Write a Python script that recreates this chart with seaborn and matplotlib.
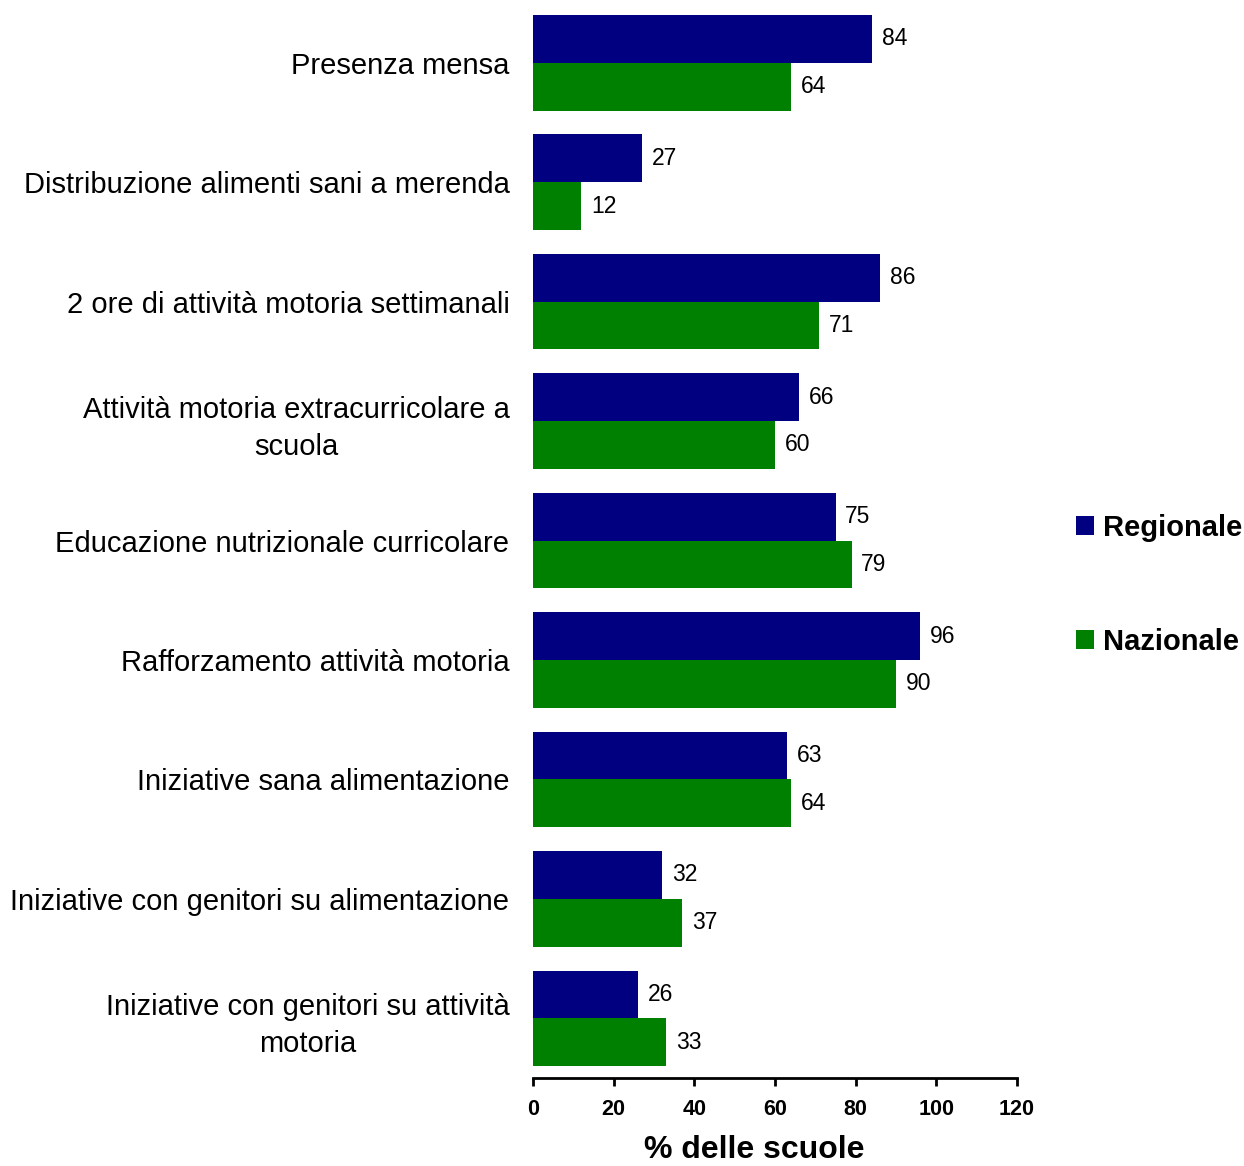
import matplotlib
matplotlib.use("Agg")
import matplotlib.pyplot as plt
import seaborn as sns
import pandas as pd
from matplotlib.patches import Patch

categories = [
    "Presenza mensa",
    "Distribuzione alimenti sani a merenda",
    "2 ore di attività motoria settimanali",
    "Attività motoria extracurricolare a\nscuola",
    "Educazione nutrizionale curricolare",
    "Rafforzamento attività motoria",
    "Iniziative sana alimentazione",
    "Iniziative con genitori su alimentazione",
    "Iniziative con genitori su attività\nmotoria",
]
regionale = [84, 27, 86, 66, 75, 96, 63, 32, 26]
nazionale = [64, 12, 71, 60, 79, 90, 64, 37, 33]
series_names = ["Regionale", "Nazionale"]
colors = ["#000080", "#008000"]
xticks = [0, 20, 40, 60, 80, 100, 120]

df = pd.DataFrame({
    "cat": categories * 2,
    "val": regionale + nazionale,
    "serie": [series_names[0]] * len(categories) + [series_names[1]] * len(categories),
})

sns.set_style("white")
plt.rcParams["font.family"] = ["Liberation Sans", "DejaVu Sans"]
plt.rcParams["text.color"] = "black"
plt.rcParams["xtick.color"] = "black"
plt.rcParams["ytick.color"] = "black"
plt.rcParams["axes.labelcolor"] = "black"

fig = plt.figure(figsize=(12.44, 11.66), dpi=100)
ax = fig.add_axes([533 / 1244, 1 - 1078 / 1166, (1017 - 533) / 1244, (1078 - 3) / 1166])

sns.barplot(data=df, x="val", y="cat", hue="serie", order=categories,
            hue_order=series_names, palette=colors, orient="h",
            width=0.8, saturation=1, ax=ax, legend=False, errorbar=None,
            linewidth=0, edgecolor="none")

for cont in ax.containers:
    ax.bar_label(cont, fmt="%d", padding=7, fontsize=16.5, color="black")

ax.set_xlim(0, 120)
ax.set_ylim(8.5, -0.5)
ax.set_xticks(xticks)
ax.set_xticklabels([str(t) for t in xticks], fontsize=15.5, fontweight="bold")
ax.tick_params(axis="x", direction="out", length=6, width=2, pad=9, bottom=True, colors="black")
ax.tick_params(axis="y", length=0, pad=17, labelsize=21, colors="black")
for lbl in ax.get_yticklabels():
    lbl.set_multialignment("center")
    lbl.set_linespacing(1.4)
ax.set_xlabel("% delle scuole", fontsize=23, fontweight="bold")
ax.xaxis.set_label_coords((754 - 533) / 484, -(1150 - 1078) / 1075, transform=None)
ax.xaxis.label.set_transform(ax.transAxes)
ax.xaxis.label.set_va("center")
ax.set_ylabel("")

for s in ["top", "right", "left"]:
    ax.spines[s].set_visible(False)
ax.spines["bottom"].set_linewidth(2)
ax.spines["bottom"].set_color("black")

handles = [Patch(facecolor=c, edgecolor="none") for c in colors]
fig.legend(handles, series_names, loc="center left", bbox_to_anchor=(1076 / 1244, 1 - 585 / 1166),
           frameon=False, prop={"size": 21, "weight": "bold"}, borderaxespad=0, borderpad=0,
           handlelength=0.62, handleheight=0.62, handletextpad=0.3, labelspacing=2.95)

fig.savefig("out.png", dpi=100)
